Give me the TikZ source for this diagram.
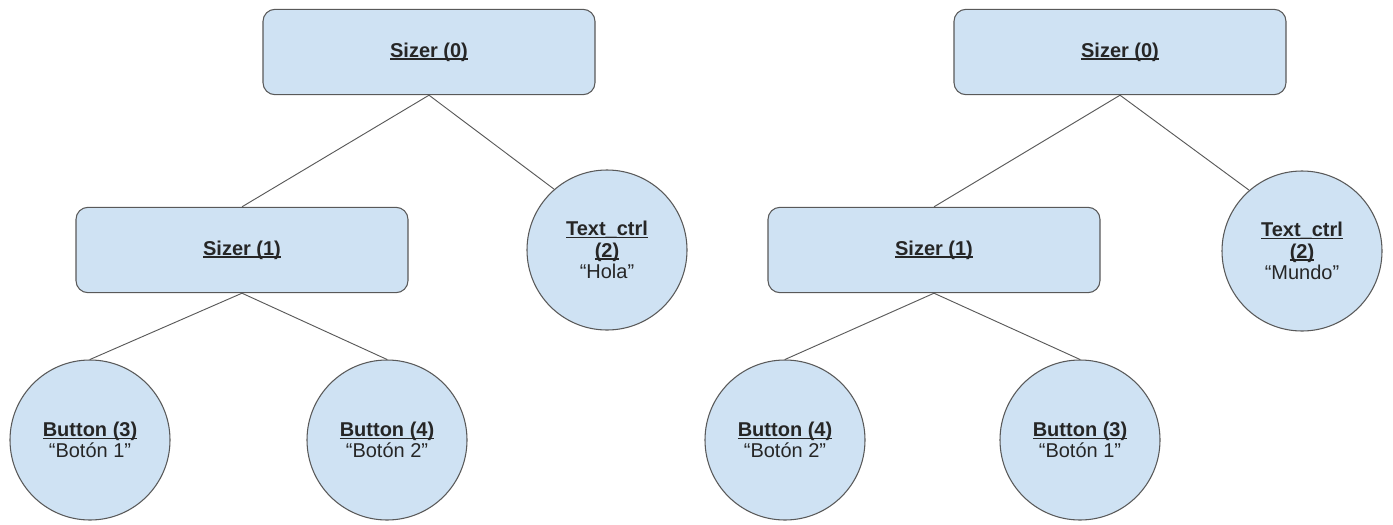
\documentclass[tikz,border=0pt]{standalone}
\usepackage{fontspec}
\setmainfont{Liberation Sans}
\definecolor{boxfill}{HTML}{CFE2F3}
\definecolor{boxline}{HTML}{595959}
% bold text with an underline at a fixed depth below the baseline
\newcommand\ulbf[1]{\setbox0\hbox{\bfseries #1}\rlap{\rule[-0.13em]{\wd0}{0.07em}}\box0}
\tikzset{
  every node/.style={font=\fontsize{15}{16}\selectfont, text=black!85},
  sizer/.style={draw=boxline, fill=boxfill, line width=0.8pt, rounded corners=9pt,
    minimum width=249pt, minimum height=64pt, inner sep=0pt},
  leaf/.style={draw=boxline, fill=boxfill, line width=0.8pt, circle,
    minimum size=120pt, inner sep=0pt, align=center},
  edge/.style={draw=boxline, line width=0.7pt}
}
\begin{document}
\begin{tikzpicture}[x=0.75pt, y=-0.75pt]
  \useasboundingbox (0,0) rectangle (1393,525);

  % first tree
  \node[sizer] (S0a) at (429,52)  {\ulbf{Sizer (0)}};
  \node[sizer] (S1a) at (242,250) {\ulbf{Sizer (1)}};
  \node[leaf]  (Ta)  at (607,250) {\ulbf{Text\_ctrl}\\\ulbf{(2)}\\“Hola”};
  \node[leaf]  (B3a) at (90,440)  {\ulbf{Button (3)}\\“Botón 1”};
  \node[leaf]  (B4a) at (387,440) {\ulbf{Button (4)}\\“Botón 2”};

  \draw[edge] (S0a.south) -- (S1a.north);
  \draw[edge] (S0a.south) -- (Ta.131);
  \draw[edge] (S1a.south) -- (B3a.north);
  \draw[edge] (S1a.south) -- (B4a.north);

  % second tree, buttons swapped
  \node[sizer] (S0b) at (1120,52) {\ulbf{Sizer (0)}};
  \node[sizer] (S1b) at (934,250) {\ulbf{Sizer (1)}};
  \node[leaf]  (Tb)  at (1302,251) {\ulbf{Text\_ctrl}\\\ulbf{(2)}\\“Mundo”};
  \node[leaf]  (B4b) at (785,440) {\ulbf{Button (4)}\\“Botón 2”};
  \node[leaf]  (B3b) at (1080,440) {\ulbf{Button (3)}\\“Botón 1”};

  \draw[edge] (S0b.south) -- (S1b.north);
  \draw[edge] (S0b.south) -- (Tb.131);
  \draw[edge] (S1b.south) -- (B4b.north);
  \draw[edge] (S1b.south) -- (B3b.north);
\end{tikzpicture}
\end{document}
